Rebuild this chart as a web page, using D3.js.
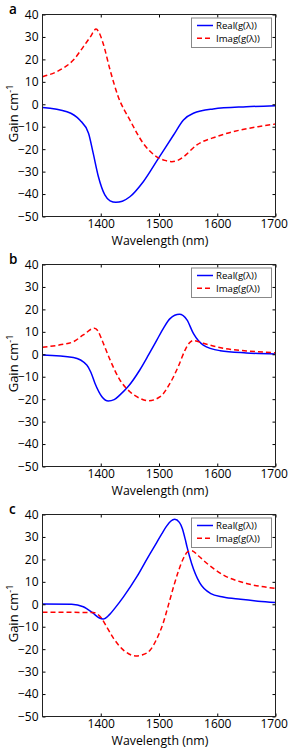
<!DOCTYPE html>
<html>
<head>
<meta charset="utf-8">
<script src="https://cdn.jsdelivr.net/npm/d3@7"></script>
<style>
  html, body { margin: 0; padding: 0; background: #fff; }
  svg { display: block; }
  text { font-family: "Open Sans", "Noto Sans", sans-serif; fill: #000; }
</style>
</head>
<body>
<svg id="chart" width="288" height="750"></svg>
<script>
// ---------- data ----------
const panelLabels = ["a", "b", "c"];
const seriesNames = ["Real(g(\u03bb))", "Imag(g(\u03bb))"];
const xTicks = [1400, 1500, 1600, 1700];
const yTicks = [40, 30, 20, 10, 0, -10, -20, -30, -40, -50];

// Panel a
const aRealWl = [1300,1342,1364,1379,1387,1396,1407,1416,1426,1437,1450,1473,1499,1525,1542,1559,1593,1650,1700];
const aRealG  = [-1.4,-3.3,-7,-12.9,-21.8,-32.3,-40.4,-43,-43.7,-43.2,-41.2,-34.5,-24.1,-13.7,-7,-4,-2.1,-1.1,-0.6];
const aImagWl = [1300,1330,1353,1370,1382,1392,1397,1404,1416,1430,1450,1473,1496,1510,1522,1532,1542,1565,1599,1639,1670,1700];
const aImagG  = [12.3,15.3,19.7,25.6,30,33.5,32,27.2,15.3,3.4,-7,-17.4,-23.4,-25,-25.6,-25,-23.4,-18.1,-14.4,-11.5,-10,-8.8];

// Panel b
const bRealWl = [1300,1353,1376,1383,1390,1402,1413,1423,1433,1447,1467,1482,1496,1508,1519,1535,1548,1559,1576,1605,1650,1700];
const bRealG  = [-0.3,-1.4,-4.8,-8,-12.9,-18.9,-20.8,-20.2,-18.1,-14.4,-7,-0.3,6.2,11.8,15.9,17.8,15.3,9.3,4.1,1.6,0.6,0.1];
const bImagWl = [1300,1330,1353,1370,1389,1395,1402,1416,1433,1450,1467,1482,1502,1519,1533,1545,1552,1559,1576,1610,1650,1700];
const bImagG  = [3.1,4.2,5.6,8.6,11.6,10.5,6.4,-2.5,-11.5,-16.7,-19.6,-20.7,-18.9,-12.9,-5.5,2,5,6.1,4.9,2.7,1.5,0.7];

// Panel c
const cRealWl = [1300,1350,1370,1387,1397,1404,1415,1425,1439,1462,1480,1496,1505,1513,1520,1527,1535,1540,1545,1548,1556,1570,1588,1610,1640,1670,1700];
const cRealG  = [0.1,0,-1.1,-4,-6,-6.6,-4.6,-1.5,3.3,12.3,20.5,27.5,31.5,34.8,37,37.9,36.5,33.8,29,25.7,18.2,9.5,4.9,3.2,2.2,1.4,0.8];
const cImagWl = [1300,1350,1387,1395,1401,1410,1422,1439,1460,1472,1485,1496,1507,1516,1525,1533,1542,1549,1556,1568,1582,1610,1650,1700];
const cImagG  = [-3.6,-3.6,-3.7,-4.5,-6.1,-10,-15.2,-20.4,-23,-22.5,-20.4,-15.5,-8.5,-0.5,7.8,14.5,20.5,23.3,23.9,21.5,18.3,13.1,9.3,7.1];

const panels = [
  { label: panelLabels[0], real: [aRealWl, aRealG], imag: [aImagWl, aImagG] },
  { label: panelLabels[1], real: [bRealWl, bRealG], imag: [bImagWl, bImagG] },
  { label: panelLabels[2], real: [cRealWl, cRealG], imag: [cImagWl, cImagG] }
];

// ---------- drawing ----------
const svg = d3.select("#chart");
const left = 42.5, right = 275.5;
const x = d3.scaleLinear().domain([1300, 1700]).range([left, right]);
const blue = "#0000ff", red = "#ff0000";

panels.forEach((p, i) => {
  const top = 14.5 + i * 250, bottom = 216.5 + i * 250;
  const y = d3.scaleLinear().domain([-50, 40]).range([bottom, top]);
  const g = svg.append("g");

  const line = d3.line()
    .x(d => x(d[0])).y(d => y(d[1]))
    .curve(d3.curveMonotoneX);

  const zip = s => s[0].map((w, k) => [w, s[1][k]]);

  const clipId = "clip" + i;
  g.append("clipPath").attr("id", clipId)
    .append("rect").attr("x", left).attr("y", top)
    .attr("width", right - left).attr("height", bottom - top);

  const plot = g.append("g").attr("clip-path", `url(#${clipId})`);
  plot.append("path").datum(zip(p.real))
    .attr("d", line).attr("fill", "none")
    .attr("stroke", blue).attr("stroke-width", 1.5);
  plot.append("path").datum(zip(p.imag))
    .attr("d", line).attr("fill", "none")
    .attr("stroke", red).attr("stroke-width", 1.5)
    .attr("stroke-dasharray", "5,3");

  // axes
  const axB = d3.axisBottom(x).tickValues(xTicks).tickSize(-3).tickPadding(3).tickFormat(d3.format("d"));
  const axT = d3.axisTop(x).tickValues(xTicks).tickSize(-3).tickFormat("");
  const axL = d3.axisLeft(y).tickValues(yTicks).tickSize(-3).tickPadding(4).tickFormat(d3.format("d"));
  const axR = d3.axisRight(y).tickValues(yTicks).tickSize(-3).tickFormat("");

  const styleAx = sel => {
    sel.select(".domain").remove();
    sel.selectAll("line").attr("stroke", "#000").attr("stroke-width", 1);
    sel.selectAll("text").attr("font-size", 12).attr("font-family", null).attr("fill", "#000");
  };
  const bAx = g.append("g").attr("transform", `translate(0,${bottom})`).call(axB).call(styleAx);
  bAx.selectAll(".tick text").filter(d => d === 1700).attr("dx", -1.8);
  g.append("g").attr("transform", `translate(0,${top})`).call(axT).call(styleAx);
  g.append("g").attr("transform", `translate(${left},0)`).call(axL).call(styleAx);
  g.append("g").attr("transform", `translate(${right},0)`).call(axR).call(styleAx);

  g.append("rect").attr("x", left).attr("y", top)
    .attr("width", right - left).attr("height", bottom - top)
    .attr("fill", "none").attr("stroke", "#222").attr("stroke-width", 1);

  // labels
  g.append("text").attr("x", (left + right) / 2 + 1).attr("y", bottom + 28)
    .attr("text-anchor", "middle").attr("font-size", 12.3)
    .text("Wavelength (nm)");

  const yl = g.append("text")
    .attr("transform", `translate(18,${(top + bottom) / 2 - 2}) rotate(-90)`)
    .attr("text-anchor", "middle").attr("font-size", 13);
  yl.append("tspan").text("Gain cm");
  yl.append("tspan").attr("dy", -5).attr("font-size", 9).text("-1");

  g.append("text").attr("x", 9).attr("y", top - 1)
    .attr("font-size", 13.5).attr("font-weight", 600)
    .text(p.label);

  // legend
  const lg = g.append("g");
  lg.append("rect").attr("x", 191.5).attr("y", top + 3.5)
    .attr("width", 80).attr("height", 29.5)
    .attr("fill", "#fff").attr("stroke", "#888").attr("stroke-width", 1);
  [[blue, null], [red, "5,3"]].forEach((st, k) => {
    const ly = top + 11 + k * 12.8;
    lg.append("line").attr("x1", 197).attr("x2", 213).attr("y1", ly).attr("y2", ly)
      .attr("stroke", st[0]).attr("stroke-width", 1.5).attr("stroke-dasharray", st[1]);
    lg.append("text").attr("x", 216).attr("y", ly + 3.6)
      .attr("font-size", 9.6).text(seriesNames[k]);
  });
});
</script>
</body>
</html>
